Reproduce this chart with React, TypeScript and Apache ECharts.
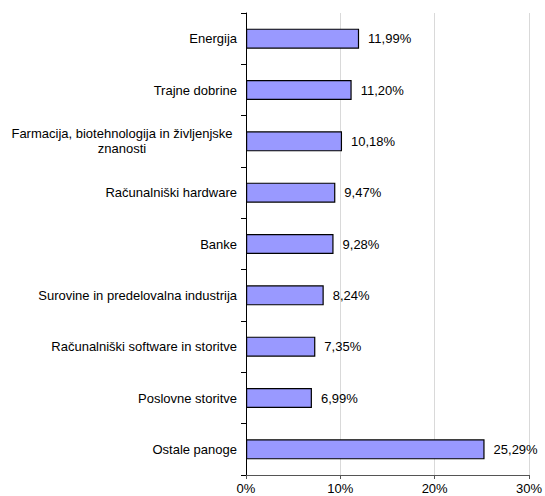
import React, { useEffect, useRef } from "react";
import * as echarts from "echarts";

const categories = [
  "Energija",
  "Trajne dobrine",
  "Farmacija, biotehnologija in življenjske znanosti",
  "Računalniški hardware",
  "Banke",
  "Surovine in predelovalna industrija",
  "Računalniški software in storitve",
  "Poslovne storitve",
  "Ostale panoge",
];
const values = [11.99, 11.2, 10.18, 9.47, 9.28, 8.24, 7.35, 6.99, 25.29];
const xTicks = [0, 10, 20, 30];

export default function App() {
  const ref = useRef<HTMLDivElement>(null);
  useEffect(() => {
    if (!ref.current) return;
    const chart = echarts.init(ref.current, null, { renderer: "svg" });
    const font = "'Liberation Sans', Arial, sans-serif";
    const fs = 13;
    chart.setOption({
      animation: false,
      backgroundColor: "#ffffff",
      grid: { left: 246, right: 14, top: 13, bottom: 21, containLabel: false },
      xAxis: {
        type: "value",
        min: xTicks[0],
        max: xTicks[xTicks.length - 1],
        interval: 10,
        axisLine: { show: true, lineStyle: { color: "#555555", width: 1 } },
        axisTick: { show: true, length: 4, lineStyle: { color: "#555555" } },
        splitLine: { show: true, lineStyle: { color: "#d9d9d9", width: 1 } },
        axisLabel: {
          formatter: (v: number) => v + "%",
          color: "#000",
          fontFamily: font,
          fontSize: fs,
          margin: 7,
        },
      },
      yAxis: {
        type: "category",
        inverse: true,
        data: categories,
        axisLine: { show: true, lineStyle: { color: "#000", width: 1 } },
        axisTick: { show: true, length: 5, lineStyle: { color: "#000" } },
        axisLabel: {
          color: "#000",
          fontFamily: font,
          fontSize: fs,
          margin: 9,
          formatter: (v: string) => {
            if (v.startsWith("Farmacija")) {
              return "{c|Farmacija, biotehnologija in življenjske}\n{c|znanosti}";
            }
            return v;
          },
          rich: {
            c: {
              width: 230,
              align: "center",
              fontFamily: font,
              fontSize: fs,
              color: "#000",
              lineHeight: 15,
            },
          },
        },
      },
      series: [
        {
          type: "bar",
          data: values,
          barWidth: 20,
          itemStyle: { color: "#9999ff", borderColor: "#000", borderWidth: 1.2 },
          label: {
            show: true,
            position: "right",
            distance: 9,
            color: "#000",
            fontFamily: font,
            fontSize: fs,
            formatter: (p: any) => p.value.toFixed(2).replace(".", ",") + "%",
          },
        },
      ],
    });
    return () => chart.dispose();
  }, []);
  return (
    <div
      ref={ref}
      style={{ position: "fixed", left: 0, top: 0, width: 545, height: 496 }}
    />
  );
}
